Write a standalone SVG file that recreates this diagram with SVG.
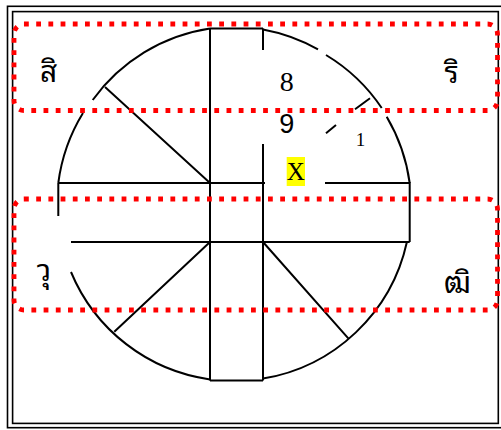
<svg xmlns="http://www.w3.org/2000/svg" width="501" height="430" viewBox="0 0 501 430">
<style>
.ln{fill:none;stroke:#000;stroke-width:2}
.fr{fill:none;stroke:#000;stroke-width:1.6}
.dot{fill:none;stroke:#ff0000;stroke-width:4.8;stroke-dasharray:4.8 7.4}
.th{font-family:"Tahoma","Noto Sans Thai Looped","Loma","Garuda","Noto Sans Thai","DejaVu Sans",sans-serif;font-size:30px;fill:#000;text-anchor:middle}
.sr{font-family:"Liberation Serif","Times New Roman",serif;fill:#000;text-anchor:middle}
.ss{font-family:"Liberation Sans",Arial,sans-serif;fill:#000;text-anchor:middle}
</style>
<rect width="501" height="430" fill="#fff"/>
<g id="frame">
<rect class="fr" x="7.5" y="6.3" width="495" height="421.4"/>
<rect class="fr" x="12.6" y="11.6" width="485.7" height="411.8"/>
</g>
<g id="connectors">
<path class="ln" d="M210,28.5 V380.5 M210,28.5 H263 M263,28.5 V50 M263,144 V380.5 M210,380.5 H263"/>
<path class="ln" d="M58.3,183 H265 M325,183 H409.7 V242 M71,242 H409.7 M58.3,183 V216"/>
<path class="ln" d="M210,28.6 A177,177 0 0 0 92.7,100"/>
<path class="ln" d="M83,113 A177,177 0 0 0 58.3,183"/>
<path class="ln" d="M263,29.4 A177,177 0 0 1 318,49.3"/>
<path class="ln" d="M326,55 A177,177 0 0 1 381.7,108"/>
<path class="ln" d="M386.7,116.7 A177,177 0 0 1 409.7,183"/>
<path class="ln" d="M71,272 A177,177 0 0 0 210,379.4"/>
<path class="ln" d="M263,378.6 A177,177 0 0 0 406.9,242"/>
<path class="ln" d="M210,183 L105,87 M263,242 L348.3,338.3 M210,242 L114.3,331.7 M326,133.3 L336,125 M355,109.3 L370,98.3"/>
</g>
<g id="box-top"><rect class="dot" x="14" y="24" width="483.5" height="86.5" rx="10"/></g>
<g id="box-bottom"><rect class="dot" x="14" y="199" width="483.5" height="111" rx="10"/></g>
<g id="label-si"><text class="th" x="48.7" y="82">สิ</text></g>
<g id="label-ri"><text class="th" x="451.5" y="83">ริ</text></g>
<g id="label-wu"><text class="th" x="44" y="281">วุ</text></g>
<g id="label-thi"><text class="th" x="457.5" y="293">ฒิ</text></g>
<g id="label-8"><text class="sr" x="286.7" y="91" font-size="28">8</text></g>
<g id="label-9"><text class="ss" x="286.7" y="132.7" font-size="27">9</text></g>
<g id="label-1"><text class="sr" x="360.4" y="146" font-size="19">1</text></g>
<g id="label-x"><rect x="286.7" y="157" width="18.3" height="29" fill="#ffff00"/><text class="sr" x="295.9" y="180" font-size="25">X</text></g>
</svg>
